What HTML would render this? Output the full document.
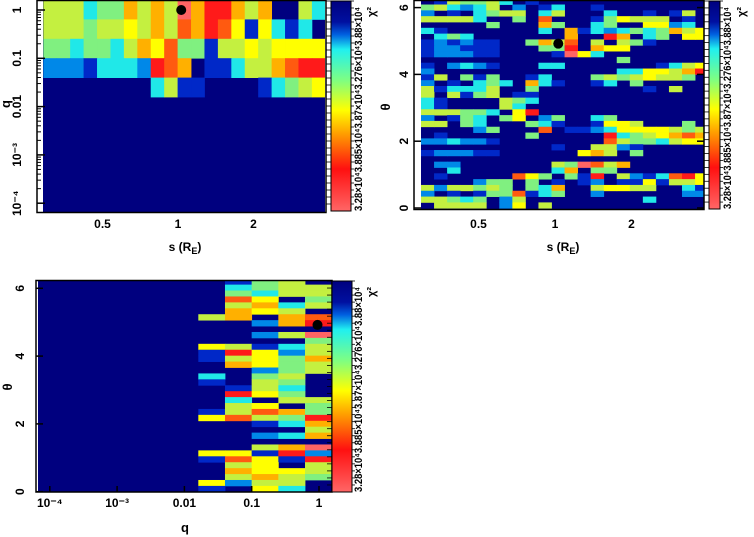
<!DOCTYPE html>
<html><head><meta charset="utf-8">
<style>
html,body{margin:0;padding:0;background:#fff;}
svg{display:block;font-family:"Liberation Sans",sans-serif;font-weight:bold;}
</style></head>
<body>
<svg id="fig" width="754" height="537" viewBox="0 0 754 537" xmlns="http://www.w3.org/2000/svg">
<defs>
<linearGradient id="cbar" x1="0" y1="0" x2="0" y2="1">
<stop offset="0" stop-color="#00007f"/>
<stop offset="0.1" stop-color="#0010a0"/>
<stop offset="0.16" stop-color="#0060e0"/>
<stop offset="0.23" stop-color="#20f0f0"/>
<stop offset="0.38" stop-color="#80ff80"/>
<stop offset="0.52" stop-color="#ffff00"/>
<stop offset="0.63" stop-color="#ffa000"/>
<stop offset="0.8" stop-color="#ff1010"/>
<stop offset="1" stop-color="#ff6666"/>
</linearGradient>
<clipPath id="clip1"><rect x="43" y="0" width="282" height="212"/></clipPath>
<clipPath id="clip2"><rect x="421" y="0" width="283" height="209"/></clipPath>
<clipPath id="clip3"><rect x="38" y="280" width="294" height="212"/></clipPath>
</defs>
<g id="p1"></g>
<g id="p2"></g>
<g id="p3"></g>
</svg>
<script>
// ---- data: colour level per cell (0 = navy ... a = pink) ----
const heat1Rows = [
"555344757 5a7997570053",
"555455657587986163130",
"443443576844155656666",
"222133329870113557899",
"000000003511000013456"
].map(s=>s.replace(/ /g,''));
const heat2Rows = [
"0154453010000000000000","4532350201300100000000","2010345503500030010150","5555300408000146555010",
"0000040007400340066230","3100000003071323434756","0343000000070097034066","1212110047580505410000",
"1221110004490766000000","12221100001a630000000 0","0000000000000004000000","1023210003300000001356",
"2000000000000003366579","1504140013000454565540","2010343073100130400000","5133350040000000010500",
"5051450110000000000000","3100005430000000000000","3100005300000000000000","5554430690000000000000",
"2014304602400340000000","5504300043100166500040","0000240008011236666545","0100000040000093456787",
"2232210000000085443566","0000000000100552100000","1222110000006750400000","0000000000000000000000",
"022000000054a8570000000","0030000000370440000000","0100000864041905213896","0000244040101201161556",
"5255454043700566550031","2010144813400200000022","5543402500000000030000","0555502605000000000000"
].map(s=>s.replace(/ /g,''));
const heat3Rows = [
"01450","03455","04355","08604","05735","07650","57078","00279","00000","0025a","00004","65135",
"19625","15647","07645","00245","30450","10540","01530","09640","03055","05604","15874","68549",
"00137","00005","00237","00000","0057a","66192","18619","05605","07665","05754","62550","10630"
];
const cbarLabels = ["3.28×10⁴","3.885×10⁴","3.87×10⁴","3.276×10⁴","3.88×10⁴"];
const p1XTicks = [0.5,1,2]; const p1XLabels = ["0.5","1","2"];
const p1YTicks = [1,0.1,0.01,0.001,0.0001]; const p1YLabels = ["1","0.1","0.01","10⁻³","10⁻⁴"];
const p2YTicks = [0,2,4,6]; const p2YLabels = ["0","2","4","6"];
const p3XTicks = [0.0001,0.001,0.01,0.1,1]; const p3XLabels = ["10⁻⁴","10⁻³","0.01","0.1","1"];
const best1 = [1.03, 1.0];
const best2 = [1.03, 4.92];
const best3 = [0.95, 4.92];

const COLORS = {"0":"#00007f","1":"#0028c8","2":"#0088e8","3":"#20e8e8","4":"#80f080","5":"#c4f040","6":"#ffff00","7":"#ffb000","8":"#ff5a10","9":"#ff1a1a","a":"#ff6464"};
const NS="http://www.w3.org/2000/svg";
function mk(tag, attrs, parent){const e=document.createElementNS(NS,tag);for(const k in attrs)e.setAttribute(k,attrs[k]);parent.appendChild(e);return e;}

const s1X = s => 178 + Math.log2(s)*75.5;
const q1Y = q => 10 - Math.log10(q)*48.3;
const s2X = s => 555 + Math.log2(s)*76.5;
const t2Y = t => 208 - t*33.4;
const q3Xf = q => 319 + Math.log10(q)*67.3;
const t3Y = t => 491.7 - t*33.9;

function heat(g, rows, x0, w, y0, h, clip, name){
  const cg = mk('g',{'clip-path':'url(#'+clip+')'},g);
  rows.forEach((row,r)=>{
    for(let c=0;c<row.length;c++){
      const lv=row[c]; if(lv==='0') continue;
      const el=mk('rect',{x:x0+c*w,y:y0+r*h,width:w+0.4,height:h+0.4,fill:COLORS[lv]},cg);
      
      
    }
  });
}
function colorbar(g, x, y, w, h, lx, chiX){
  const r=mk('rect',{x:x,y:y,width:w,height:h,fill:'url(#cbar)',stroke:'#000','stroke-width':1},g);
  
  
  for(let i=0;i<30;i++){mk('line',{x1:x-5,x2:x,y1:y+i*h/30,y2:y+i*h/30,stroke:'#000','stroke-width':0.8},g);
    mk('line',{x1:x+w,x2:x+w+3,y1:y+i*h/30,y2:y+i*h/30,stroke:'#000','stroke-width':0.8},g);}
  const t=mk('text',{x:0,y:0,'font-size':11,transform:`translate(${lx},${y+h}) rotate(-90)`,textLength:h-6,lengthAdjust:'spacingAndGlyphs'},g);
  t.textContent=cbarLabels.join('');
  
  
  const c=mk('text',{x:0,y:0,'font-size':11,transform:`translate(${chiX},${y+16}) rotate(-90)`},g);
  c.textContent='χ²';
  
  
}
function txt(g,x,y,s,name,rot,size){
  const t=mk('text',{x:0,y:0,'font-size':size||12,'text-anchor':'middle',transform:`translate(${x},${y})`+(rot?' rotate(-90)':'')},g);
  t.textContent=s;
  
  
  return t;
}
function dot(g,x,y){const d=mk('circle',{cx:x,cy:y,r:5,fill:'#000'},g);}

// ---------- panel 1 ----------
(function(){
  const g=document.getElementById('p1');
  mk('rect',{x:43,y:0,width:282,height:212,fill:'#00007f'},g);
  heat(g,heat1Rows,43.3,13.43,0,19.4,'clip1','p1');
  mk('rect',{x:37,y:0.5,width:289,height:212,fill:'none',stroke:'#000','stroke-width':1.5},g);
  p1YTicks.forEach((q,i)=>{const y=q1Y(q);mk('line',{x1:37,x2:45,y1:y,y2:y,stroke:'#000','stroke-width':1.5},g);
    for(let k=2;k<10;k++){const yy=q1Y(q*k);if(yy>0)mk('line',{x1:37,x2:41,y1:yy,y2:yy,stroke:'#000'},g);}
    txt(g,21,y,p1YLabels[i],'y-tick-label',true,12);});
  p1XTicks.forEach((s,i)=>{const x=s1X(s);txt(g,x,228,p1XLabels[i],'x-tick-label',false,12);});
  txt(g,10,104,'q','y-axis-title',true,13);
  txt(g,185,251,'s','x-axis-title',false,12).innerHTML='s (R<tspan font-size="9" dy="3">E</tspan><tspan dy="-3">)</tspan>';
  dot(g,s1X(best1[0]),q1Y(best1[1]));
  colorbar(g,331,1,20,210,362,375);
})();

// ---------- panel 2 ----------
(function(){
  const g=document.getElementById('p2');
  mk('rect',{x:421,y:0,width:283,height:209,fill:'#00007f'},g);
  heat(g,heat2Rows,421,13.05,-1.3,5.82,'clip2','p2');
  mk('rect',{x:414,y:0.5,width:290,height:209,fill:'none',stroke:'#000','stroke-width':1.5},g);
  p2YTicks.forEach((t,i)=>{const y=t2Y(t);mk('line',{x1:414,x2:421,y1:y,y2:y,stroke:'#000','stroke-width':1.5},g);
    mk('line',{x1:697,x2:704,y1:y,y2:y,stroke:'#000','stroke-width':1.5},g);
    txt(g,408,y,p2YLabels[i],'y-tick-label',true,12);});
  p1XTicks.forEach((s,i)=>txt(g,s2X(s),228,p1XLabels[i],'x-tick-label',false,12));
  txt(g,390,107,'θ','y-axis-title',true,13);
  txt(g,563,251,'s','x-axis-title',false,12).innerHTML='s (R<tspan font-size="9" dy="3">E</tspan><tspan dy="-3">)</tspan>';
  dot(g,s2X(best2[0]),t2Y(best2[1]));
  colorbar(g,709,1,11,208,731,745);
})();

// ---------- panel 3 ----------
(function(){
  const g=document.getElementById('p3');
  mk('rect',{x:38,y:280,width:294,height:212,fill:'#00007f'},g);
  heat(g,heat3Rows.map(r=>'000000'+r),38.3,26.67,278.7,5.92,'clip3','p3');
  mk('rect',{x:36,y:280.5,width:296,height:211.5,fill:'none',stroke:'#000','stroke-width':1.5},g);
  p2YTicks.forEach((t,i)=>{const y=t3Y(t);mk('line',{x1:36,x2:43,y1:y,y2:y,stroke:'#000','stroke-width':1.5},g);
    txt(g,24,y,p2YLabels[i],'y-tick-label',true,12);});
  p3XTicks.forEach((q,i)=>{const x=q3Xf(q);mk('line',{x1:x,x2:x,y1:492,y2:486,stroke:'#000','stroke-width':1.5},g);
    txt(g,x,507,p3XLabels[i],'x-tick-label',false,12);});
  txt(g,12,387,'θ','y-axis-title',true,13);
  txt(g,185,532,'q','x-axis-title',false,13);
  dot(g,q3Xf(best3[0]),t3Y(best3[1]));
  colorbar(g,332,281,20,211,362,375);
})();
</script>
</body></html>
